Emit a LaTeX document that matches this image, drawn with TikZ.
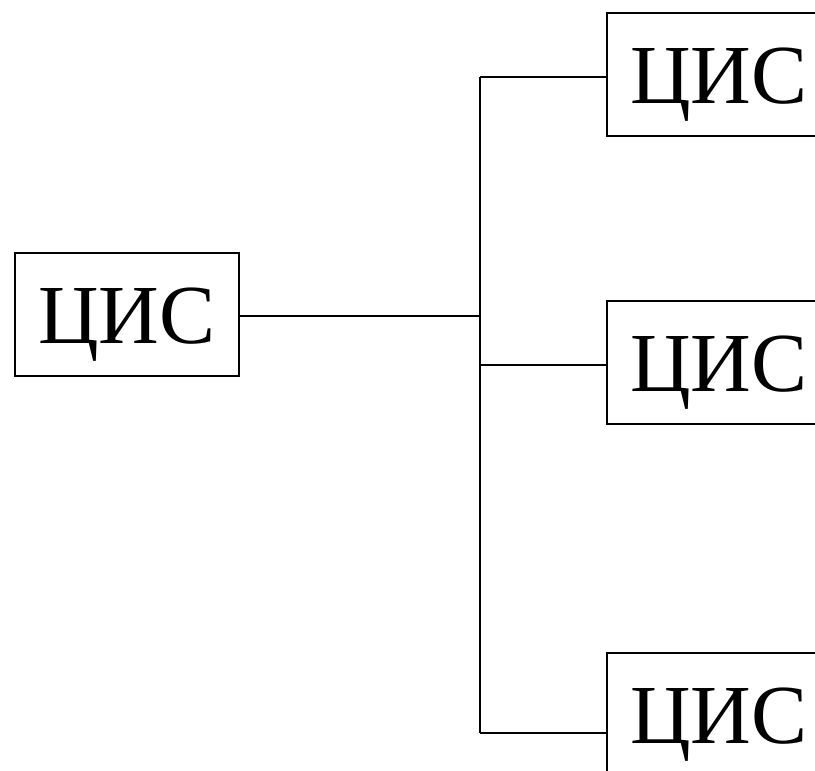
\documentclass[tikz,border=0pt]{standalone}
\usepackage{fontspec}
\setmainfont{Liberation Serif}
\begin{document}
\begin{tikzpicture}[x=1pt,y=-1pt,
  cisbox/.style={draw, line width=2pt, minimum width=224pt, minimum height=123pt,
    inner sep=0pt, font=\fontsize{84}{84}\selectfont, text height=57pt, text depth=0pt},
  link/.style={line width=2pt}]
\useasboundingbox (0,0) rectangle (815,771);
\clip (0,0) rectangle (815,771);
\node[cisbox] (L) at (127,314.5) {ЦИС\hspace{4pt}};
\node[cisbox] (R1) at (719,74.5) {ЦИС\hspace{4pt}};
\node[cisbox] (R2) at (719,362.5) {ЦИС\hspace{4pt}};
\node[cisbox] (R3) at (719,714.5) {ЦИС\hspace{4pt}};
\coordinate (J0) at (480,316);
\coordinate (J1) at (480,77);
\coordinate (J2) at (480,365);
\coordinate (J3) at (480,733);
\draw[link] (L.east |- J0) -- (J0);
\draw[link] (J1) -- (J3);
\draw[link] (J1) -- (R1.west |- J1);
\draw[link] (J2) -- (R2.west |- J2);
\draw[link] (J3) -- (R3.west |- J3);
\end{tikzpicture}
\end{document}
